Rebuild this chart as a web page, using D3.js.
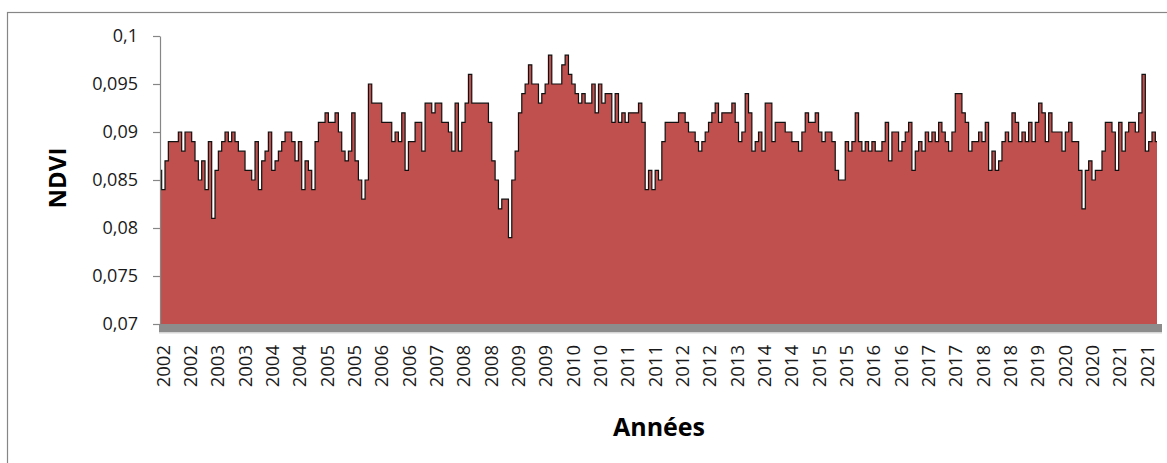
<!DOCTYPE html>
<html>
<head>
<meta charset="utf-8">
<script src="https://cdn.jsdelivr.net/npm/d3@7"></script>
<style>
  body { margin: 0; background: #fff; }
  svg { display: block; }
</style>
</head>
<body>
<svg id="chart" width="1167" height="463"></svg>
<script>
const ndvi2002_2005 = [86,84,87,89,89,89,90,88,90,90, 89,87,85,87,84,89,81,86,88,89,
  90,89,90,89,88,88,86,86,85,89, 84,87,88,90,86,87,88,89,90,90,
  89,87,89,84,87,86,84,89,91,91, 92,91,91,92,90,88,87,88,92,87];
const ndvi2006_2009 = [85,83,85,95,93,93,93,91,91,91, 89,90,89,92,86,89,89,91,91,88,
  93,93,92,93,93,91,91,90,88,93, 88,91,93,96,93,93,93,93,93,91,
  87,85,82,83,83,79,85,88,92,94, 95,97,95,95,93,94,95,98,95,95];
const ndvi2010_2013 = [95,97,98,96,95,94,93,94,93,93, 95,92,95,93,94,94,91,94,91,92,
  91,92,92,92,93,91,84,86,84,86, 85,89,91,91,91,91,92,92,91,90,
  90,89,88,89,90,91,92,93,91,92, 92,92,93,91,89,90,94,92,88,89];
const ndvi2014_2017 = [90,88,93,93,89,91,91,91,90,90, 89,89,88,90,92,91,91,92,90,89,
  90,90,89,86,85,85,89,88,89,92, 89,88,89,88,89,88,88,89,91,87,
  90,90,88,89,90,91,86,88,89,88, 90,89,90,89,91,90,89,88,90,94];
const ndvi2018_2021 = [94,92,91,88,89,89,90,89,91,86, 88,86,87,89,90,89,92,91,89,90,
  89,91,89,91,93,92,89,92,90,90, 90,88,90,91,89,89,86,82,86,87,
  85,86,86,88,91,91,90,86,91,88, 90,91,91,90,92,96,88,89,90,89];

const yearLabels = ["2002","2002","2003","2003","2004","2004","2005","2005","2006","2006",
  "2007","2008","2008","2009","2009","2010","2010","2011","2011","2012","2012","2013",
  "2014","2014","2015","2015","2016","2016","2017","2017","2018","2018","2019","2020",
  "2020","2021","2021"];
const yTicks = [0.07, 0.075, 0.08, 0.085, 0.09, 0.095, 0.1];

const ndvi = [].concat(ndvi2002_2005, ndvi2006_2009, ndvi2010_2013, ndvi2014_2017, ndvi2018_2021)
  .map(v => v / 1000);

// Plot box
let plotLeft = 160, plotRight = 1157, plotTop = 36, plotBottom = 324,
  fillColor = "#c0504d",
  axisGrey = "#868686",
  fontFamily = "'Open Sans', 'Noto Sans', sans-serif",
  labelStep = 8.2; // categories between two year labels

const svg = d3.select("#chart");

// chart frame (right and bottom edges are outside the window)
svg.append("rect")
  .attr("x", 7.5).attr("y", 12.5)
  .attr("width", 1300).attr("height", 600)
  .attr("fill", "none")
  .attr("stroke", axisGrey)
  .attr("stroke-width", 1.2);

const x = d3.scaleLinear().domain([0, ndvi.length - 1]).range([plotLeft, plotRight]);
const y = d3.scaleLinear().domain([0.07, 0.1]).range([plotBottom, plotTop]);

// values are quantized to 0.001, so steps look closer to the original
const area = d3.area()
  .x((d, i) => x(i))
  .y0(y(0.07))
  .y1(d => y(d))
  .curve(d3.curveStep);

const line = d3.line()
  .x((d, i) => x(i))
  .y(d => y(d))
  .curve(d3.curveStep);

svg.append("path")
  .datum(ndvi)
  .attr("fill", fillColor)
  .attr("d", area);

svg.append("path")
  .datum(ndvi)
  .attr("fill", "none")
  .attr("stroke", "#111")
  .attr("stroke-width", 1.2)
  .attr("d", line);

// grey floor under the area
svg.append("rect")
  .attr("x", plotLeft - 1).attr("y", plotBottom)
  .attr("width", plotRight - plotLeft + 6).attr("height", 8)
  .attr("fill", "#8c8c8c");
svg.append("rect")
  .attr("x", plotLeft - 1).attr("y", plotBottom + 8)
  .attr("width", plotRight - plotLeft + 6).attr("height", 1.5)
  .attr("fill", "#d6d6d6");

// Y axis
const fr = d3.formatLocale({ decimal: ",", thousands: " ", grouping: [3], currency: ["", ""] });
const yAxis = d3.axisLeft(y)
  .tickValues(yTicks)
  .tickFormat(fr.format("~g"))
  .tickSize(7)
  .tickSizeOuter(0)
  .tickPadding(15);

const gy = svg.append("g")
  .attr("transform", "translate(" + plotLeft + ",0)")
  .call(yAxis);
gy.select(".domain").attr("stroke", axisGrey).attr("stroke-width", 1.2);
gy.selectAll(".tick line").attr("stroke", axisGrey).attr("stroke-width", 1.2);
gy.selectAll(".tick text")
  .attr("font-family", fontFamily)
  .attr("font-size", 18)
  .attr("fill", "#1a1a1a");

// X labels, rotated
svg.append("g")
  .selectAll("text")
  .data(yearLabels)
  .join("text")
  .attr("transform", (d, i) => "translate(" + (x(i * labelStep) + 2) + ",345) rotate(-90)")
  .attr("text-anchor", "end")
  .attr("dominant-baseline", "central")
  .attr("font-family", fontFamily)
  .attr("font-size", 18.5)
  .attr("fill", "#1a1a1a")
  .text(d => d);

// axis titles
svg.append("text")
  .attr("transform", "translate(56,178) rotate(-90)")
  .attr("text-anchor", "middle")
  .attr("dominant-baseline", "central")
  .attr("font-family", fontFamily)
  .attr("font-weight", "bold")
  .attr("font-size", 24)
  .text("NDVI");

svg.append("text")
  .attr("x", 659).attr("y", 436)
  .attr("text-anchor", "middle")
  .attr("font-family", fontFamily)
  .attr("font-weight", "bold")
  .attr("font-size", 25)
  .text("Années");
</script>
</body>
</html>
